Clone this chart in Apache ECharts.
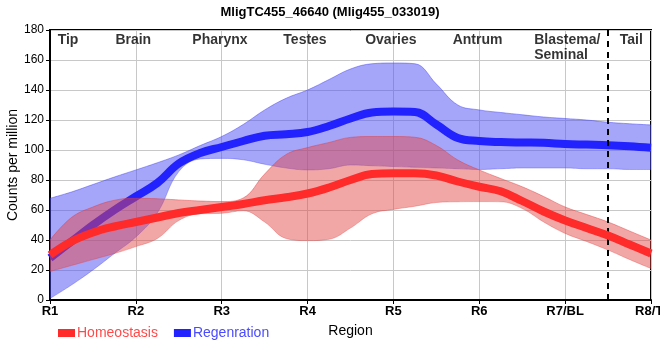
<!DOCTYPE html>
<html><head><meta charset="utf-8">
<script src="https://cdn.jsdelivr.net/npm/echarts@6/dist/echarts.min.js"></script>
<style>html,body{margin:0;padding:0;background:#fff}#c{width:660px;height:360px}</style>
</head><body><div id="c"></div>
<script>
const xLabels = ['R1','R2','R3','R4','R5','R6','R7/BL','R8/TI'];
const xs = [1,1.25,1.5,1.75,2,2.25,2.5,2.75,3,3.25,3.5,3.75,4,4.25,4.5,4.75,5,5.25,5.5,5.75,6,6.25,6.5,6.75,7,7.25,7.5,7.75,8];
const homMean = [30,39,45,49,52,55,58,60,62,64,66.5,68.5,71,75,80,84,84.5,84.5,83,79,75.5,72.5,66,59,53,48,43,37,31];
const homHi   = [40,55,62,66.5,67.8,67.5,66.7,66,65.6,68,84,97,101.6,105,108.4,109,109,108.5,103,93.3,86.7,81,75.5,69,62,57,52,46,40];
const homLo   = [19,23,27,31,35.6,41,53,57.5,57.8,59.5,52,41,39.6,40.5,48,57.5,60.4,62.5,65,65.5,65.6,65.5,61,52,44.4,39,33.3,27,21];
const regMean = [28,39,50,60,69,78,91,98,102,106,109.5,110.5,112,116,121,125,125.6,125.3,117,108,106,105.3,105,104.8,104,103.6,103.2,102.5,101.5];
const regHi   = [67.8,72,77,82,86.7,91.5,96.7,103,109,117,126.7,134.5,140,147,154,157.5,158,157.5,144,130,126.7,125,123.5,122,121,120,118.5,117.5,116.7];
const regLo   = [1,10,20,31,42,58,85.6,94,94.4,93.5,90.5,88,86.7,87.5,90,89.5,89,88.5,88,87.5,87,87.5,88,88,88,87.5,87.5,87,87];
const regionNames = ['Tip','Brain','Pharynx','Testes','Ovaries','Antrum','Tail'];
const regionX = [1.21,1.97,2.98,3.97,4.97,5.98,7.77];
const blastemaLabel = 'Blastema/\nSeminal';
const blastemaX = 6.64;
const dividerX = 7.5;

const FONT = "'Liberation Sans Narrow','Liberation Sans',Arial,sans-serif";
const diff = (h,l) => h.map((v,i)=>+(v-l[i]).toFixed(2));
const every4 = (i) => i % 4 === 0;

const chart = echarts.init(document.getElementById('c'));
chart.setOption({
  animation:false,
  textStyle:{fontFamily:FONT},
  title:{text:'MligTC455_46640 (Mlig455_033019)',left:'center',top:1,
    textStyle:{fontFamily:FONT,fontSize:13,fontWeight:'bold',color:'#000'}},
  grid:{left:50,right:9,top:30,bottom:60,show:true,borderColor:'#000',borderWidth:2,outerBoundsMode:'none',containLabel:false},
  legend:{left:53,top:321,itemWidth:17,itemHeight:8,itemGap:16,icon:'rect',
    data:[{name:'Homeostasis',textStyle:{color:'#ff4a4a'}},{name:'Regenration',textStyle:{color:'#4a4aff'}}],
    textStyle:{fontFamily:FONT,fontSize:14,padding:[0,0,0,-3]}},
  xAxis:[
    {type:'category',data:xs.map(String),boundaryGap:false,name:'Region',nameLocation:'middle',nameGap:24,nameMoveOverlap:false,
      nameTextStyle:{color:'#000',fontSize:14,fontFamily:FONT},
      axisLine:{lineStyle:{color:'#000',width:2}},
      axisTick:{show:true,length:4,interval:every4,lineStyle:{color:'#000'}},
      axisLabel:{interval:every4,formatter:(v)=>xLabels[Math.round(+v)-1],color:'#000',fontWeight:'bold',fontSize:13,margin:5,fontFamily:FONT},
      splitLine:{show:true,interval:every4,lineStyle:{color:'#c8c8c8',width:1}}},
    {type:'value',min:1,max:8,show:false}
  ],
  yAxis:{type:'value',min:0,max:180,interval:20,name:'Counts per million',nameLocation:'middle',nameGap:30,nameMoveOverlap:false,
    nameTextStyle:{color:'#000',fontSize:14,fontFamily:'Liberation Sans,Arial,sans-serif'},
    axisLine:{show:true,lineStyle:{color:'#000',width:2}},
    axisTick:{show:true,length:4,lineStyle:{color:'#000'}},
    axisLabel:{color:'#000',fontSize:12,margin:6,fontFamily:'Liberation Sans,Arial,sans-serif'},
    splitLine:{show:true,lineStyle:{color:'#c8c8c8',width:1}}},
  series:[
    {name:'regLo',type:'line',stack:'reg',smooth:0.4,symbol:'none',data:regLo,
      lineStyle:{width:1,color:'rgba(60,60,240,0.35)'},z:2},
    {name:'regBand',type:'line',stack:'reg',smooth:0.4,symbol:'none',data:diff(regHi,regLo),
      lineStyle:{width:1,color:'rgba(60,60,240,0.45)'},areaStyle:{color:'rgba(75,75,245,0.5)',opacity:1},z:2},
    {name:'Regenration',type:'line',smooth:0.4,symbol:'none',data:regMean,
      itemStyle:{color:'#2222ff'},lineStyle:{width:8,color:'#2222ff',cap:'butt'},z:3},
    {name:'homLo',type:'line',stack:'hom',smooth:0.4,symbol:'none',data:homLo,
      lineStyle:{width:1,color:'rgba(225,60,60,0.35)'},z:4},
    {name:'homBand',type:'line',stack:'hom',smooth:0.4,symbol:'none',data:diff(homHi,homLo),
      lineStyle:{width:1,color:'rgba(225,60,60,0.45)'},areaStyle:{color:'rgba(228,72,72,0.48)',opacity:1},z:4},
    {name:'Homeostasis',type:'line',smooth:0.4,symbol:'none',data:homMean,
      itemStyle:{color:'#ff2a2a'},lineStyle:{width:8,color:'#ff2a2a',cap:'butt'},z:5},
    {name:'regions',type:'scatter',xAxisIndex:1,symbolSize:0,silent:true,z:6,
      data:regionX.map((x,i)=>({value:[x,180],label:{formatter:regionNames[i]}})).concat([
        {value:[blastemaX,180],label:{formatter:blastemaLabel,align:'left',lineHeight:15}}]),
      label:{show:true,position:'bottom',distance:3,color:'#000',fontWeight:'bold',fontSize:14,fontFamily:FONT},
      markLine:{silent:true,symbol:'none',label:{show:false},
        lineStyle:{color:'#000',type:[6,5],width:2},data:[{xAxis:dividerX}]}}
  ]
});
</script></body></html>
